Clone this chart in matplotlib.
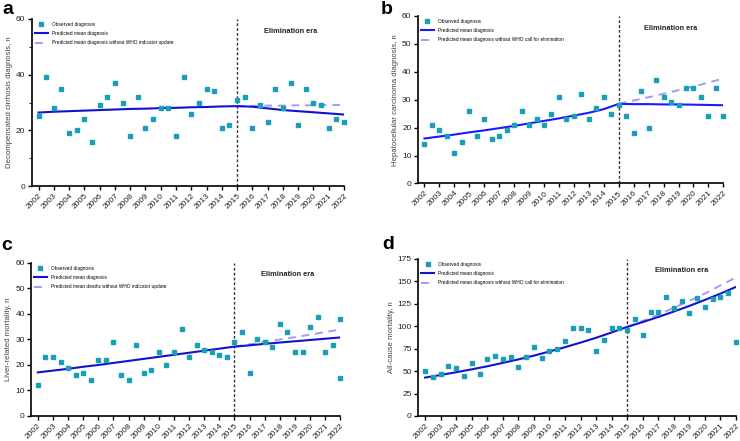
import matplotlib
matplotlib.use("Agg")
import matplotlib.pyplot as plt
from matplotlib.lines import Line2D
import numpy as np

plt.rcParams["font.family"] = ["Liberation Sans", "DejaVu Sans"]

# half-year observation grid, 2002 .. 2022
half_years = np.arange(2002, 2022.5, 0.5)
years = list(range(2002, 2023))
post_years = list(range(2015, 2023))

# panel a - decompensated cirrhosis
cirrhosis_obs = [25, 39, 28, 35, 19, 20, 24, 16, 29, 32, 37, 30, 18, 32, 21, 24,
                 28, 28, 18, 39, 26, 30, 35, 34, 21, 22, 31, 32, 21, 29, 23, 35,
                 28, 37, 22, 35, 30, 29, 21, 24, 23]
cirrhosis_pred = [26.4, 26.7, 26.9, 27.1, 27.3, 27.5, 27.7, 27.8, 28.0, 28.1, 28.3,
                  28.4, 28.6, 28.7, 28.5, 27.9, 27.3, 26.9, 26.5, 26.1, 25.7]
cirrhosis_nowho = [28.7, 28.8, 28.9, 28.9, 29.0, 29.0, 29.1, 29.1]

# panel b - hepatocellular carcinoma
hcc_obs = [14, 21, 19, 17, 11, 15, 26, 17, 23, 16, 17, 19, 21, 26, 21, 23, 21, 25,
           31, 23, 24, 32, 23, 27, 31, 25, 28, 24, 18, 33, 20, 37, 31, 29, 28, 34,
           34, 31, 24, 34, 24]
hcc_pred = [16.1, 16.8, 17.5, 18.3, 19.0, 19.8, 20.6, 21.5, 22.4, 23.3, 24.3, 25.3,
            26.6, 28.5, 28.4, 28.4, 28.3, 28.3, 28.2, 28.1, 28.0]
hcc_nowho = [28.5, 29.7, 30.9, 32.1, 33.4, 34.7, 36.1, 37.6]

# panel c - liver-related mortality (two points plotted at 2022)
liver_obs = [12, 23, 23, 21, 19, 16, 17, 14, 22, 22, 29, 16, 14, 28, 17, 18, 25, 20,
             25, 34, 23, 28, 26, 25, 24, 23, 29, 33, 17, 30, 29, 27, 36, 33, 25, 25,
             35, 39, 25, 28, 38, 15]
liver_pred = [17.1, 17.8, 18.5, 19.3, 20.0, 20.8, 21.6, 22.4, 23.2, 24.0, 24.8,
              25.6, 26.4, 27.2, 27.7, 28.3, 28.8, 29.3, 29.8, 30.3, 30.8]
liver_nowho = [27.2, 28.1, 29.0, 30.0, 30.9, 31.9, 32.9, 33.9]

# panel d - all-cause mortality
allcause_obs = [50, 43, 47, 56, 53, 45, 59, 47, 64, 67, 64, 66, 55, 66, 77, 65, 72,
                75, 84, 98, 98, 96, 72, 85, 98, 98, 96, 108, 90, 116, 116, 133, 120,
                128, 115, 131, 122, 130, 133, 137, 82]
allcause_pred = [42.8, 45.7, 48.8, 52.0, 55.4, 59.2, 63.1, 67.3, 71.9, 76.7, 81.8,
                 87.2, 93.1, 99.3, 104.7, 110.4, 116.4, 122.7, 129.4, 136.4, 143.9]
allcause_nowho = [99.3, 106.0, 113.0, 120.5, 128.5, 136.5, 145.5, 154.5]

OBS_COLOR = "#1a9fb8"
PRED_COLOR = "#1212d0"
NOWHO_COLOR = "#a09cf2"


def draw_panel(ax, obs_x, obs, pred, nowho, ylabel, ymax, ystep,
               pred_label, nowho_label, pred_color=PRED_COLOR):
    ax.plot(obs_x, obs, "s", color=OBS_COLOR, markersize=2.2, clip_on=False,
            zorder=4)
    ax.plot(years, pred, "-", color=pred_color, linewidth=1.5, zorder=3)
    ax.plot(post_years, nowho, "--", color=NOWHO_COLOR, linewidth=1.4,
            dashes=(4, 3), zorder=2)
    ax.axvline(2015, color="#333333", linestyle=(0, (2, 1.5)), linewidth=1.0,
               zorder=1)

    ax.set_xlim(2001.55, 2022)
    ax.set_ylim(0, ymax)
    ax.set_xticks(years)
    ax.set_xticklabels([str(y) for y in years], rotation=45, ha="right",
                       rotation_mode="anchor", fontsize=6, color="#222222")
    ax.set_yticks(np.arange(0, ymax + 1, ystep))
    ax.tick_params(axis="y", labelsize=6, length=3, width=1, pad=1.5,
                   labelcolor="#222222")
    ax.tick_params(axis="x", length=3, width=1, pad=1.5)
    ax.spines["top"].set_visible(False)
    ax.spines["right"].set_visible(False)
    ax.spines["left"].set_linewidth(1.2)
    ax.spines["bottom"].set_linewidth(1.2)
    ax.set_ylabel(ylabel, fontsize=5.6, color="#444444", labelpad=2)

    ax.text(2018.5, ymax * 0.925, "Elimination era", fontsize=5.3,
            fontweight="bold", ha="center", va="center", color="#222222")

    handles = [
        Line2D([], [], marker="s", linestyle="none", color=OBS_COLOR,
               markersize=2.2),
        Line2D([], [], color=pred_color, linewidth=1.5),
        Line2D([], [], color=NOWHO_COLOR, linewidth=1.4, linestyle="--",
               dashes=(4, 3)),
    ]
    ax.legend(handles, ["Observed diagnosis", pred_label, nowho_label],
              loc="upper left", frameon=False, fontsize=3.4, handlelength=2.8,
              handletextpad=0.9, labelspacing=0.9, borderaxespad=0.2,
              bbox_to_anchor=(0.0, 1.0))


fig = plt.figure(figsize=(7.4, 4.41), dpi=100)

ax_a = fig.add_axes([0.0428, 0.578, 0.422, 0.379])
ax_b = fig.add_axes([0.5645, 0.584, 0.413, 0.380])
ax_c = fig.add_axes([0.0419, 0.0567, 0.418, 0.347])
ax_d = fig.add_axes([0.565, 0.0567, 0.4296, 0.356])

draw_panel(ax_a, half_years, cirrhosis_obs, cirrhosis_pred, cirrhosis_nowho,
           "Decompensated cirrhosis diagnosis, n", 60, 20,
           "Predicted mean diagnosis",
           "Predicted mean diagnosis without WHO indicator update")
ax_a.set_yticks(np.arange(0, 61, 10), minor=True)
ax_a.tick_params(axis="y", which="minor", length=2)

draw_panel(ax_b, half_years, hcc_obs, hcc_pred, hcc_nowho,
           "Hepatocellular carcinoma diagnosis, n", 60, 10,
           "Predicted mean diagnosis",
           "Predicted mean diagnosis without WHO call for elimination",
           pred_color="#1a1aff")

liver_x = list(half_years) + [2022.0]
draw_panel(ax_c, liver_x, liver_obs, liver_pred, liver_nowho,
           "Liver-related mortality, n", 60, 10,
           "Predicted mean diagnosis",
           "Predicted mean deaths without WHO indicator update")

draw_panel(ax_d, half_years, allcause_obs, allcause_pred, allcause_nowho,
           "All-cause mortality, n", 175, 25,
           "Predicted mean diagnosis",
           "Predicted mean diagnosis without WHO call for elimination")

# panel letters
letter_style = dict(fontsize=14, fontweight="bold", ha="left", va="top")
fig.text(0.003, 0.998, "a", **letter_style)
fig.text(0.514, 0.998, "b", **letter_style)
fig.text(0.002, 0.462, "c", **letter_style)
fig.text(0.516, 0.465, "d", **letter_style)

fig.savefig("out.png", dpi=100)
